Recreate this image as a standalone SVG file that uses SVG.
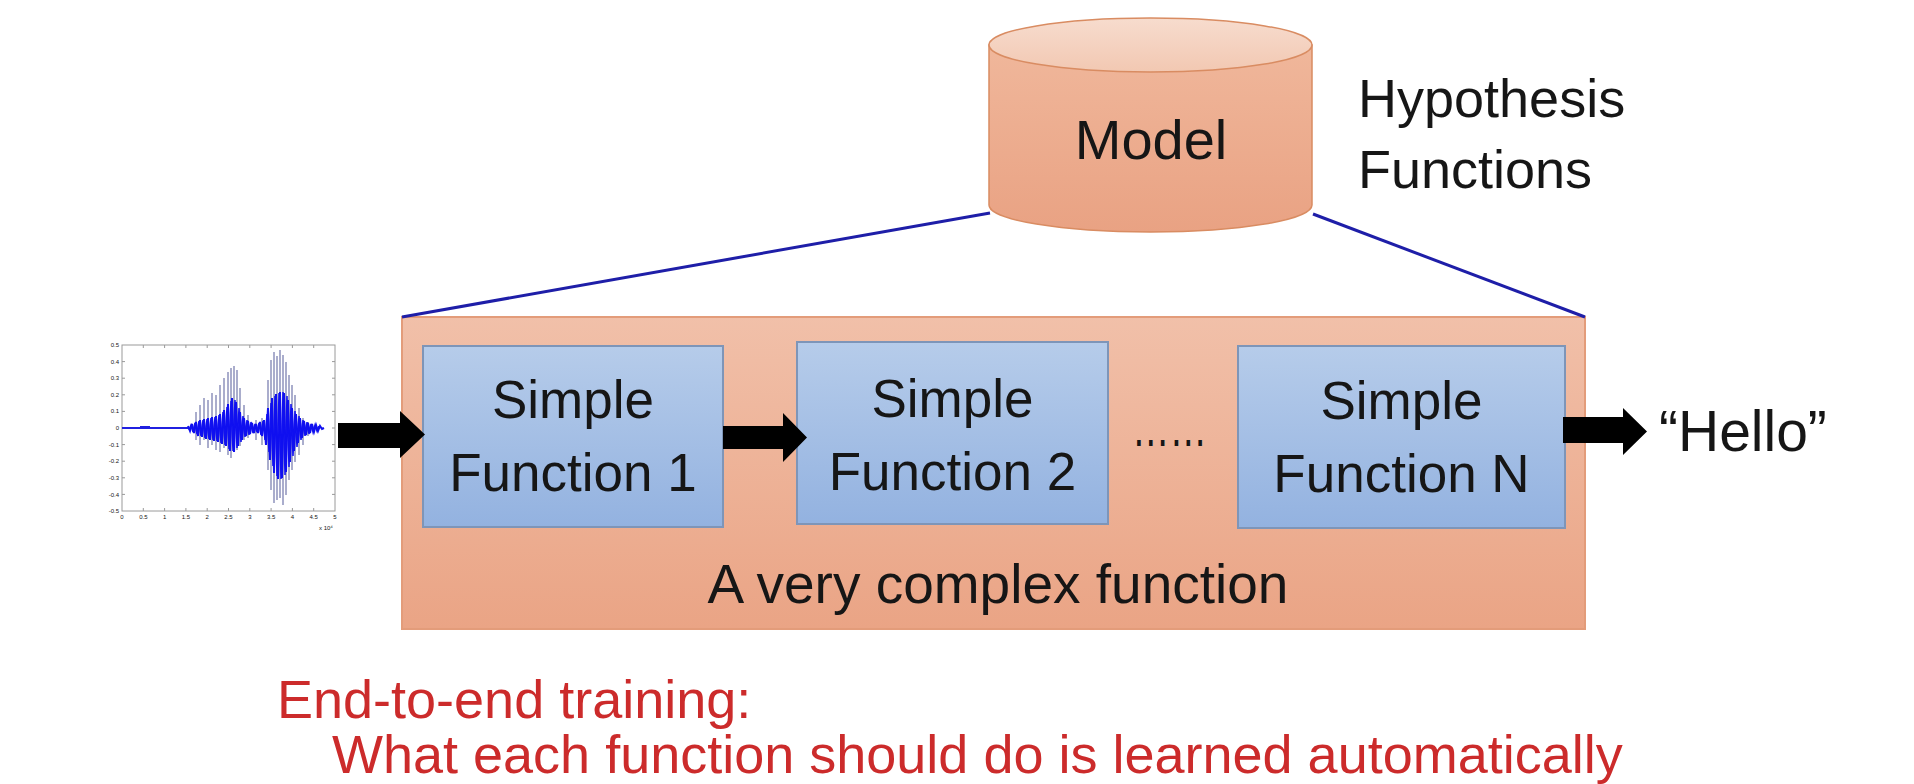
<svg xmlns="http://www.w3.org/2000/svg" width="1914" height="784" viewBox="0 0 1914 784">
<defs>
<linearGradient id="gOuter" x1="0" y1="0" x2="0" y2="1"><stop offset="0" stop-color="#F1C0A9"/><stop offset="1" stop-color="#EAA485"/></linearGradient>
<linearGradient id="gBlue" x1="0" y1="0" x2="0" y2="1"><stop offset="0" stop-color="#B6CCEA"/><stop offset="1" stop-color="#93B2E0"/></linearGradient>
<linearGradient id="gCyl" x1="0" y1="0" x2="0" y2="1"><stop offset="0" stop-color="#F0B79B"/><stop offset="1" stop-color="#E9A283"/></linearGradient>
<linearGradient id="gCylTop" x1="0" y1="0" x2="0" y2="1"><stop offset="0" stop-color="#F7DCCE"/><stop offset="1" stop-color="#F2C8B2"/></linearGradient>
</defs>
<style>
text{font-family:"Liberation Sans",Arial,sans-serif;fill:#161616}
.lbl{font-size:53px;text-anchor:middle}
.blue{fill:url(#gBlue);stroke:#7E95B8;stroke-width:2}
.red{fill:#CC2B2B;font-size:54px}
.arrow{fill:#000}
.link{stroke:#1E1EA8;stroke-width:3;fill:none}
.tick{font-size:6px;fill:#777}
.frame{fill:none;stroke:#9a9a9a;stroke-width:1}
</style>
<rect width="1914" height="784" fill="#fff"/>

<g id="waveform">
<rect class="frame" x="122" y="345" width="213" height="166"/>
<path d="M122,361.6h3M122,378.2h3M122,394.8h3M122,411.4h3M122,428h3M122,444.6h3M122,461.2h3M122,477.8h3M122,494.4h3M335,361.6h-3M335,378.2h-3M335,394.8h-3M335,411.4h-3M335,428h-3M335,444.6h-3M335,461.2h-3M335,477.8h-3M335,494.4h-3M143.3,511v-3M164.6,511v-3M185.9,511v-3M207.2,511v-3M228.5,511v-3M249.8,511v-3M271.1,511v-3M292.4,511v-3M313.7,511v-3M143.3,345v3M164.6,345v3M185.9,345v3M207.2,345v3M228.5,345v3M249.8,345v3M271.1,345v3M292.4,345v3M313.7,345v3" stroke="#9a9a9a" stroke-width="1"/>
<g class="tick" text-anchor="end">
<text x="119" y="347">0.5</text><text x="119" y="364">0.4</text><text x="119" y="380">0.3</text><text x="119" y="397">0.2</text><text x="119" y="413">0.1</text><text x="119" y="430">0</text><text x="119" y="447">-0.1</text><text x="119" y="463">-0.2</text><text x="119" y="480">-0.3</text><text x="119" y="497">-0.4</text><text x="119" y="513">-0.5</text>
</g>
<g class="tick" text-anchor="middle">
<text x="122" y="519">0</text><text x="143.3" y="519">0.5</text><text x="164.6" y="519">1</text><text x="185.9" y="519">1.5</text><text x="207.2" y="519">2</text><text x="228.5" y="519">2.5</text><text x="249.8" y="519">3</text><text x="271.1" y="519">3.5</text><text x="292.4" y="519">4</text><text x="313.7" y="519">4.5</text><text x="335" y="519">5</text>
<text x="326" y="530">x 10⁴</text>
</g>
<path d="M196,412V440M200,405V445M204,398V440M208,400V448M212,393V445M216,395V450M220,385V452M224,378V448M228,372V455M231,368V458M234,366V452M237,370V450M240,388V446M244,405V440M248,415V438M256,420V440M262,418V445M268,380V470M271,360V490M274,352V503M277,356V500M280,350V498M283,355V505M286,362V495M289,375V480M292,385V470M295,395V462M299,408V455M303,418V445M308,422V436" stroke="#5D639F" stroke-width="1.3" opacity="0.8" fill="none"/>
<path d="M122,428H188M140,427h10" stroke="#2020E0" stroke-width="2" fill="none"/>
<polyline fill="none" stroke="#1010F0" stroke-width="2" points="188,426 190,431 192,424 194,433 196,422 198,436 200,420 202,437 204,419 206,439 208,418 210,440 212,417 214,441 216,416 218,442 220,414 222,444 224,410 226,446 228,404 230,451 232,398 234,452 236,402 238,446 240,412 242,440 244,418 246,436 248,421 250,434 252,423 254,433 256,424 258,433 260,422 262,436 264,420 266,445 268,408 270,460 272,398 274,473 276,394 278,479 280,392 282,478 284,393 286,472 288,400 290,462 292,408 294,451 296,414 298,443 300,418 302,438 304,421 306,435 308,423 310,433 312,424 314,432 316,425 318,431 320,426 322,429 324,428"/>
<polyline fill="none" stroke="#1010F0" stroke-width="1.5" points="189,430 191,425 193,432 195,423 197,434 199,421 201,436 203,420 205,438 207,419 209,439 211,418 213,440 215,417 217,441 219,415 221,443 223,412 225,445 227,407 229,449 231,401 233,451 235,400 237,448 239,408 241,442 243,416 245,437 247,420 249,435 251,422 253,433 255,424 257,432 259,423 261,435 263,421 265,440 267,414 269,452 271,403 273,466 275,396 277,476 279,393 281,479 283,392 285,475 287,396 289,467 291,404 293,456 295,411 297,447 299,416 301,440 303,420 305,436 307,422 309,434 311,424 313,432 315,425 317,431 319,426"/>
</g>

<g id="model">
<path d="M989,45V205A161.5,27 0 0 0 1312,205V45Z" fill="url(#gCyl)" stroke="#D98C62" stroke-width="1.5"/>
<ellipse cx="1150.5" cy="45" rx="161.5" ry="27" fill="url(#gCylTop)" stroke="#D98C62" stroke-width="1.5"/>
<text x="1151" y="159" font-size="56" text-anchor="middle">Model</text>
</g>

<g id="hypothesis">
<text x="1358" y="117" font-size="54">Hypothesis</text>
<text x="1358" y="188" font-size="54">Functions</text>
</g>

<g id="complex">
<rect x="402" y="317" width="1183" height="312" fill="url(#gOuter)" stroke="#E39C7A" stroke-width="2"/>
<text x="998" y="603" font-size="55" text-anchor="middle">A very complex function</text>
</g>

<g id="f1">
<rect class="blue" x="423" y="346" width="300" height="181"/>
<text class="lbl" x="573" y="418">Simple</text>
<text class="lbl" x="573" y="491">Function 1</text>
</g>

<g id="f2">
<rect class="blue" x="797" y="342" width="311" height="182"/>
<text class="lbl" x="952.5" y="417">Simple</text>
<text class="lbl" x="952.5" y="490">Function 2</text>
</g>

<g id="dots">
<text x="1132" y="446" font-size="55" textLength="75" lengthAdjust="spacingAndGlyphs">……</text>
</g>

<g id="fN">
<rect class="blue" x="1238" y="346" width="327" height="182"/>
<text class="lbl" x="1401.5" y="419">Simple</text>
<text class="lbl" x="1401.5" y="492">Function N</text>
</g>

<g id="hello">
<text x="1659" y="451" font-size="57">“Hello”</text>
</g>

<g id="connectors">
<line class="link" x1="990" y1="213" x2="402" y2="317"/>
<line class="link" x1="1313" y1="214" x2="1585" y2="317"/>
<polygon class="arrow" points="338,423 400,423 400,411 425,434.5 400,458 400,448 338,448"/>
<polygon class="arrow" points="723,426 783,426 783,413 807,437.5 783,462 783,449 723,449"/>
<polygon class="arrow" points="1563,417 1623,417 1623,408 1647,431.5 1623,455 1623,443 1563,443"/>
</g>

<g id="note">
<text class="red" x="277" y="718">End-to-end training:</text>
<text class="red" x="332" y="773">What each function should do is learned automatically</text>
</g>
</svg>
